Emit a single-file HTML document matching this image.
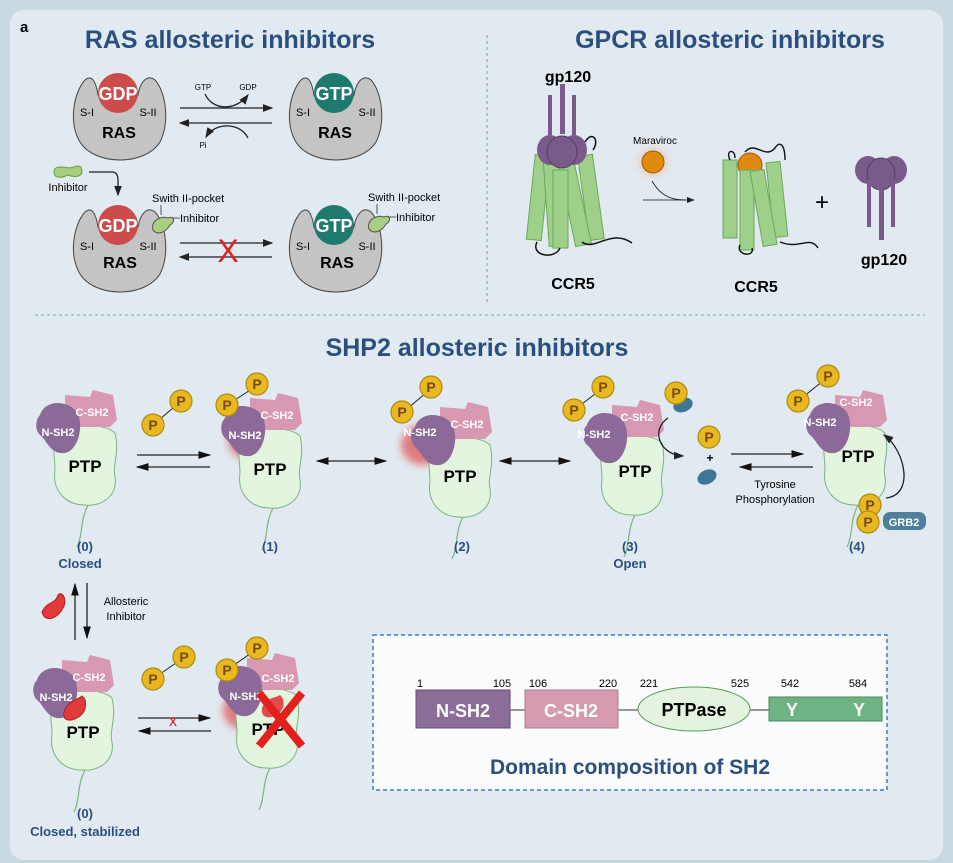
<!DOCTYPE html>
<html><head><meta charset="utf-8"><style>
html,body{margin:0;padding:0;background:#c9d9e0;}
svg{display:block;font-family:"Liberation Sans",Arial,sans-serif;}
.t{font-weight:bold;fill:#2a4f7f;}
.w{fill:#fff;font-weight:bold;font-size:11px;text-anchor:middle;}
.b{font-weight:bold;text-anchor:middle;}
.ptp{fill:#e3f4df;stroke:#7bb47f;stroke-width:1;}
.tail{fill:none;stroke:#7bb47f;stroke-width:1.2;}
.cs{fill:#d898b2;}
.ns{fill:#8b6a99;}
.pc{fill:#e8b820;stroke:#b08a10;stroke-width:1.2;}
.pt{fill:#7a4a10;font-weight:bold;font-size:14px;text-anchor:middle;}
.lbl{fill:#2a4f7f;font-weight:bold;font-size:13px;text-anchor:middle;}
.ras{fill:#c4c4c4;stroke:#444;stroke-width:1;}
.ln{stroke:#222;stroke-width:1.3;fill:none;}
</style></head><body>
<svg width="953" height="863" viewBox="0 0 953 863">
<defs>
<marker id="ah" markerWidth="8" markerHeight="6" refX="7" refY="3" orient="auto"><path d="M0,0 L8,3 L0,6Z" fill="#222"/></marker>
<marker id="as" markerWidth="10" markerHeight="6" refX="9" refY="3" orient="auto-start-reverse"><path d="M0,0 L10,3 L0,6Z" fill="#111"/></marker>
<filter id="gl" x="-50%" y="-50%" width="200%" height="200%"><feGaussianBlur stdDeviation="4"/></filter>
</defs>
<rect x="0" y="0" width="953" height="863" fill="#c9d9e0"/>
<rect x="10" y="10" width="933" height="850" rx="14" fill="#e1eaf0"/>
<text x="20" y="32" font-size="15" font-weight="bold">a</text>
<text x="230" y="48" font-size="25" class="t" text-anchor="middle">RAS  allosteric inhibitors</text>
<text x="730" y="48" font-size="25" class="t" text-anchor="middle">GPCR allosteric inhibitors</text>
<text x="477" y="356" font-size="25" class="t" text-anchor="middle">SHP2  allosteric inhibitors</text>
<line x1="487" y1="35" x2="487" y2="305" stroke="#a9c8c8" stroke-width="2" stroke-dasharray="3,3"/>
<line x1="35" y1="315" x2="925" y2="315" stroke="#a9c8c8" stroke-width="2" stroke-dasharray="3,3"/>

<!-- RAS -->
<g id="ras1">
<path class="ras" d="M85,80 C74,92 68,122 80,142 C95,166 145,166 160,142 C170,122 166,92 155,80 C147,74 140,82 138,95 C130,110 105,110 98,95 C96,82 92,74 85,80Z"/>
</g>
<circle cx="118" cy="93" r="20" fill="#cc4c4c"/><text x="118" y="100" class="b" font-size="18" fill="#fff">GDP</text>
<text x="87" y="116" font-size="11" text-anchor="middle">S-I</text><text x="148" y="116" font-size="11" text-anchor="middle">S-II</text>
<text x="119" y="138" class="b" font-size="16">RAS</text>
<use href="#ras1" x="216"/>
<circle cx="334" cy="93" r="20" fill="#1f7a6e"/><text x="334" y="100" class="b" font-size="18" fill="#fff">GTP</text>
<text x="303" y="116" font-size="11" text-anchor="middle">S-I</text><text x="367" y="116" font-size="11" text-anchor="middle">S-II</text>
<text x="335" y="138" class="b" font-size="16">RAS</text>
<line x1="180" y1="108" x2="272" y2="108" class="ln" marker-end="url(#ah)"/>
<line x1="272" y1="123" x2="180" y2="123" class="ln" marker-end="url(#ah)"/>
<path d="M205,94 C212,110 235,112 248,95" class="ln" stroke-width="0.8" marker-end="url(#ah)"/>
<path d="M248,138 C240,122 215,122 206,137" class="ln" stroke-width="0.8" marker-end="url(#ah)"/>
<text x="203" y="90" font-size="8" text-anchor="middle">GTP</text><text x="248" y="90" font-size="8" text-anchor="middle">GDP</text>
<text x="203" y="148" font-size="8" text-anchor="middle">Pi</text>
<path d="M54,172 C54,165 64,167 70,168 C76,166 82,164 82,171 C82,178 72,177 68,175 C62,178 54,179 54,172Z" fill="#a8cf80" stroke="#6a9a4a"/>
<text x="68" y="191" font-size="11" text-anchor="middle">Inhibitor</text>
<path d="M89,172 L112,172 Q118,172 118,180 L118,195" class="ln" stroke-width="0.9" marker-end="url(#ah)"/>
<use href="#ras1" x="0" y="132"/>
<circle cx="118" cy="225" r="20" fill="#cc4c4c"/><text x="118" y="232" class="b" font-size="18" fill="#fff">GDP</text>
<text x="87" y="250" font-size="11" text-anchor="middle">S-I</text><text x="148" y="250" font-size="11" text-anchor="middle">S-II</text>
<text x="120" y="268" class="b" font-size="16">RAS</text>
<use href="#ras1" x="216" y="132"/>
<circle cx="334" cy="225" r="20" fill="#1f7a6e"/><text x="334" y="232" class="b" font-size="18" fill="#fff">GTP</text>
<text x="303" y="250" font-size="11" text-anchor="middle">S-I</text><text x="367" y="250" font-size="11" text-anchor="middle">S-II</text>
<text x="337" y="268" class="b" font-size="16">RAS</text>
<path d="M153,230 C150,222 160,215 168,218 C174,215 176,222 170,225 C166,232 158,236 153,230Z" fill="#a8cf80" stroke="#555"/>
<path d="M369,229 C366,221 376,214 384,217 C390,214 392,221 386,224 C382,231 374,235 369,229Z" fill="#a8cf80" stroke="#555"/>
<line x1="161" y1="205" x2="161" y2="215" stroke="#333" stroke-width="0.8"/><line x1="172" y1="218" x2="180" y2="218" stroke="#333" stroke-width="0.8"/>
<line x1="377" y1="204" x2="377" y2="214" stroke="#333" stroke-width="0.8"/><line x1="388" y1="217" x2="396" y2="217" stroke="#333" stroke-width="0.8"/>
<text x="152" y="202" font-size="11">Swith II-pocket</text><text x="180" y="222" font-size="11">Inhibitor</text>
<text x="368" y="201" font-size="11">Swith II-pocket</text><text x="396" y="221" font-size="11">Inhibitor</text>
<line x1="180" y1="243" x2="272" y2="243" class="ln" marker-end="url(#ah)"/>
<line x1="272" y1="257" x2="180" y2="257" class="ln" marker-end="url(#ah)"/>
<text x="228" y="262" font-size="32" fill="#e3201c" text-anchor="middle">X</text>

<!-- GPCR -->
<path d="M585,142 C592,130 600,140 593,150" fill="none" stroke="#111" stroke-width="1.5"/>
<g fill="#9fd08a" stroke="#6aa85a" stroke-width="1">
<rect x="531" y="155" width="15" height="85" transform="rotate(6 538 195)"/>
<rect x="583" y="155" width="15" height="85" transform="rotate(-8 590 195)"/>
<rect x="546" y="158" width="16" height="88" transform="rotate(-4 554 200)"/>
<rect x="566" y="158" width="16" height="88" transform="rotate(-12 574 200)"/>
<rect x="553" y="170" width="15" height="78"/>
</g>
<path d="M537,242 C530,256 555,260 560,248 M582,242 C595,252 610,228 632,243" fill="none" stroke="#111" stroke-width="1.5"/>
<g fill="#7a5a8a">
<rect x="548" y="95" width="4" height="40"/><rect x="560" y="84" width="5" height="50"/><rect x="572" y="95" width="4" height="40"/>
<ellipse cx="550" cy="150" rx="13" ry="15"/><ellipse cx="574" cy="150" rx="13" ry="15"/><ellipse cx="562" cy="152" rx="15" ry="16" stroke="#5a3a6a"/>
</g>
<text x="568" y="82" class="b" font-size="16">gp120</text>
<text x="573" y="289" class="b" font-size="16">CCR5</text>
<circle cx="653" cy="162" r="14" fill="#f4a060" opacity="0.4" filter="url(#gl)"/>
<circle cx="653" cy="162" r="11" fill="#e08a10" stroke="#a05a00"/>
<text x="655" y="144" font-size="10" text-anchor="middle">Maraviroc</text>
<line x1="643" y1="200" x2="694" y2="200" stroke="#444" stroke-width="1" marker-end="url(#ah)"/>
<path d="M652,181 C660,195 670,200 685,200" fill="none" stroke="#222" stroke-width="0.9"/>
<g fill="#9fd08a" stroke="#6aa85a" stroke-width="1">
<rect x="723" y="160" width="14" height="78"/><rect x="770" y="162" width="14" height="75" transform="rotate(-6 777 200)"/>
<circle cx="750" cy="165" r="12" fill="#e08a10" stroke="#a05a00"/>
<rect x="740" y="170" width="14" height="80"/><rect x="756" y="170" width="14" height="76" transform="rotate(-10 763 205)"/>
</g>
<path d="M730,160 C725,150 735,148 735,158 M745,152 C755,140 765,160 775,148 C780,140 785,145 785,160" fill="none" stroke="#111" stroke-width="1.4"/>
<path d="M740,245 C735,255 755,258 752,248 M780,242 C800,250 810,235 818,248" fill="none" stroke="#111" stroke-width="1.4"/>
<text x="756" y="292" class="b" font-size="16">CCR5</text>
<text x="822" y="210" font-size="24" text-anchor="middle">+</text>
<g fill="#7a5a8a">
<ellipse cx="868" cy="170" rx="13" ry="14"/><ellipse cx="894" cy="170" rx="13" ry="14"/><ellipse cx="881" cy="174" rx="14" ry="16" stroke="#5a3a6a"/>
<rect x="867" y="180" width="4" height="47"/><rect x="879" y="185" width="5" height="55"/><rect x="891" y="180" width="4" height="47"/>
</g>
<text x="884" y="265" class="b" font-size="16">gp120</text>

<!-- SHP2 molecule template -->
<g id="mol0" transform="translate(85,465)">
<path class="tail" d="M3,40 C-5,55 -2,70 -8,82"/>
<path class="ptp" d="M-28,-35 C-15,-42 20,-42 30,-32 C35,-12 27,0 30,12 C33,32 15,42 0,40 C-20,40 -33,25 -30,5 C-30,-10 -34,-20 -28,-35Z"/>
<path class="cs" d="M-20,-70 L5,-68 L8,-75 L28,-70 L32,-45 L25,-38 L-15,-38 L-20,-55Z"/>
<path class="ns" d="M-45,-50 C-40,-65 -20,-65 -10,-55 C0,-45 -5,-15 -20,-12 C-35,-10 -38,-25 -45,-30 C-50,-35 -50,-45 -45,-50Z"/>
</g>
<text x="92" y="416" class="w">C-SH2</text><text x="58" y="436" class="w">N-SH2</text>
<text x="85" y="472" class="b" font-size="17">PTP</text>

<!-- free PP -->
<line x1="153" y1="425" x2="180" y2="402" stroke="#222"/>
<circle cx="153" cy="425" r="11" class="pc"/><text x="153" y="430" class="pt">P</text>
<circle cx="181" cy="401" r="11" class="pc"/><text x="181" y="406" class="pt">P</text>
<line x1="137" y1="455" x2="210" y2="455" class="ln" marker-end="url(#as)"/>
<line x1="210" y1="467" x2="137" y2="467" class="ln" marker-end="url(#as)"/>

<!-- (1) -->
<ellipse cx="250" cy="440" rx="22" ry="20" fill="#e03030" opacity="0.6" filter="url(#gl)"/>
<use href="#mol0" x="185" y="3"/>
<line x1="227" y1="405" x2="258" y2="385" stroke="#222"/>
<circle cx="227" cy="405" r="11" class="pc"/><text x="227" y="410" class="pt">P</text>
<circle cx="257" cy="384" r="11" class="pc"/><text x="257" y="389" class="pt">P</text>
<text x="277" y="419" class="w">C-SH2</text><text x="245" y="439" class="w">N-SH2</text>
<text x="270" y="475" class="b" font-size="17">PTP</text>
<line x1="317" y1="461" x2="386" y2="461" class="ln" marker-start="url(#as)" marker-end="url(#as)"/>

<!-- (2) -->
<ellipse cx="423" cy="445" rx="22" ry="20" fill="#e03030" opacity="0.6" filter="url(#gl)"/>
<use href="#mol0" x="375" y="12"/>
<line x1="402" y1="413" x2="432" y2="388" stroke="#222"/>
<circle cx="402" cy="412" r="11" class="pc"/><text x="402" y="417" class="pt">P</text>
<circle cx="431" cy="387" r="11" class="pc"/><text x="431" y="392" class="pt">P</text>
<text x="467" y="428" class="w">C-SH2</text><text x="420" y="436" class="w">N-SH2</text>
<text x="460" y="482" class="b" font-size="17">PTP</text>
<line x1="500" y1="461" x2="570" y2="461" class="ln" marker-start="url(#as)" marker-end="url(#as)"/>

<!-- (3) -->
<use href="#mol0" x="547" y="10"/>
<line x1="574" y1="410" x2="603" y2="388" stroke="#222"/>
<circle cx="574" cy="410" r="11" class="pc"/><text x="574" y="415" class="pt">P</text>
<circle cx="603" cy="387" r="11" class="pc"/><text x="603" y="392" class="pt">P</text>
<text x="637" y="421" class="w">C-SH2</text><text x="594" y="438" class="w">N-SH2</text>
<text x="635" y="477" class="b" font-size="17">PTP</text>
<ellipse cx="683" cy="405" rx="10" ry="7" fill="#3f7595" transform="rotate(-20 683 405)"/>
<circle cx="676" cy="393" r="11" class="pc"/><text x="676" y="398" class="pt">P</text>
<path d="M668,418 C650,430 660,455 683,456" class="ln" stroke-width="0.9" marker-end="url(#ah)"/>
<circle cx="709" cy="437" r="11" class="pc"/><text x="709" y="442" class="pt">P</text>
<text x="710" y="462" font-size="12" text-anchor="middle" font-weight="bold">+</text>
<ellipse cx="707" cy="477" rx="10" ry="7" fill="#3f7595" transform="rotate(-25 707 477)"/>
<line x1="731" y1="454" x2="803" y2="454" class="ln" marker-end="url(#as)"/>
<line x1="813" y1="467" x2="740" y2="467" class="ln" marker-end="url(#as)"/>
<text x="775" y="488" font-size="11" text-anchor="middle">Tyrosine</text>
<text x="775" y="503" font-size="11" text-anchor="middle">Phosphorylation</text>

<!-- (4) -->
<use href="#mol0" x="770" y="0"/>
<line x1="798" y1="401" x2="828" y2="377" stroke="#222"/>
<circle cx="798" cy="401" r="11" class="pc"/><text x="798" y="406" class="pt">P</text>
<circle cx="828" cy="376" r="11" class="pc"/><text x="828" y="381" class="pt">P</text>
<text x="856" y="406" class="w">C-SH2</text><text x="820" y="426" class="w">N-SH2</text>
<text x="858" y="462" class="b" font-size="17">PTP</text>
<circle cx="870" cy="505" r="11" class="pc"/><text x="870" y="510" class="pt">P</text>
<circle cx="868" cy="522" r="11" class="pc"/><text x="868" y="527" class="pt">P</text>
<rect x="883" y="512" width="43" height="18" rx="7" fill="#4f7f9a"/>
<text x="904" y="526" class="w">GRB2</text>
<path d="M886,498 C915,495 905,450 884,435" class="ln" stroke-width="0.9" marker-end="url(#ah)"/>

<text x="85" y="551" class="lbl">(0)</text><text x="80" y="568" class="lbl">Closed</text>
<text x="270" y="551" class="lbl">(1)</text>
<text x="462" y="551" class="lbl">(2)</text>
<text x="630" y="551" class="lbl">(3)</text><text x="630" y="568" class="lbl">Open</text>
<text x="857" y="551" class="lbl">(4)</text>

<!-- allosteric -->
<line x1="75" y1="640" x2="75" y2="584" class="ln" marker-end="url(#as)"/>
<line x1="87" y1="583" x2="87" y2="638" class="ln" marker-end="url(#as)"/>
<text x="126" y="605" font-size="11" text-anchor="middle">Allosteric</text>
<text x="126" y="620" font-size="11" text-anchor="middle">Inhibitor</text>
<path d="M42,612 C48,600 55,605 58,595 C62,590 68,600 63,608 C58,618 45,624 42,612Z" fill="#e03a3a" stroke="#b02020"/>

<use href="#mol0" x="-3" y="265"/>
<text x="89" y="681" class="w">C-SH2</text><text x="56" y="701" class="w">N-SH2</text>
<path d="M64,712 C68,700 78,700 82,696 C88,700 86,712 80,716 C72,722 62,722 64,712Z" fill="#e03a3a" stroke="#b02020"/>
<text x="83" y="738" class="b" font-size="17">PTP</text>
<line x1="153" y1="679" x2="183" y2="658" stroke="#222"/>
<circle cx="153" cy="679" r="11" class="pc"/><text x="153" y="684" class="pt">P</text>
<circle cx="184" cy="657" r="11" class="pc"/><text x="184" y="662" class="pt">P</text>
<line x1="138" y1="718" x2="210" y2="718" class="ln" marker-end="url(#as)"/>
<line x1="211" y1="731" x2="139" y2="731" class="ln" marker-end="url(#as)"/>
<text x="173" y="726" font-size="16" fill="#e3201c" text-anchor="middle">x</text>

<ellipse cx="245" cy="710" rx="22" ry="20" fill="#e03030" opacity="0.6" filter="url(#gl)"/>
<use href="#mol0" x="182" y="263"/>
<line x1="227" y1="670" x2="257" y2="649" stroke="#222"/>
<circle cx="227" cy="670" r="11" class="pc"/><text x="227" y="675" class="pt">P</text>
<circle cx="257" cy="648" r="11" class="pc"/><text x="257" y="653" class="pt">P</text>
<text x="278" y="682" class="w">C-SH2</text><text x="246" y="700" class="w">N-SH2</text>
<text x="268" y="735" class="b" font-size="17">PTP</text>
<path d="M262,708 C266,697 276,698 280,695 C286,700 284,710 278,714 C270,720 260,718 262,708Z" fill="#e03a3a" opacity="0.9"/>
<path d="M259,693 L302,746 M302,693 L259,746" stroke="#e3201c" stroke-width="8"/>
<text x="85" y="818" class="lbl">(0)</text>
<text x="85" y="836" class="lbl">Closed, stabilized</text>

<!-- domain box -->
<rect x="373" y="635" width="514" height="155" fill="#fafcfd" stroke="#3a7ab8" stroke-width="1.5" stroke-dasharray="4,3"/>
<g font-size="11" text-anchor="middle">
<text x="420" y="687">1</text><text x="502" y="687">105</text><text x="538" y="687">106</text><text x="608" y="687">220</text>
<text x="649" y="687">221</text><text x="740" y="687">525</text><text x="790" y="687">542</text><text x="858" y="687">584</text>
</g>
<line x1="510" y1="710" x2="525" y2="710" stroke="#333"/><line x1="618" y1="710" x2="638" y2="710" stroke="#333"/><line x1="750" y1="710" x2="769" y2="710" stroke="#333"/>
<rect x="416" y="690" width="94" height="38" fill="#8b6d97" stroke="#6a4a7a"/>
<text x="463" y="717" class="b" font-size="18" fill="#fff">N-SH2</text>
<rect x="525" y="690" width="93" height="38" fill="#d59ab0" stroke="#b07a90"/>
<text x="571" y="717" class="b" font-size="18" fill="#fff">C-SH2</text>
<ellipse cx="694" cy="709" rx="56" ry="22" fill="#e4f3df" stroke="#5a9a5a"/>
<text x="694" y="716" class="b" font-size="18">PTPase</text>
<rect x="769" y="697" width="113" height="24" fill="#6db384" stroke="#4a8a60"/>
<text x="792" y="716" class="b" font-size="18" fill="#fff">Y</text><text x="859" y="716" class="b" font-size="18" fill="#fff">Y</text>
<text x="630" y="774" class="t" font-size="21" text-anchor="middle">Domain composition of SH2</text>
</svg>
</body></html>
